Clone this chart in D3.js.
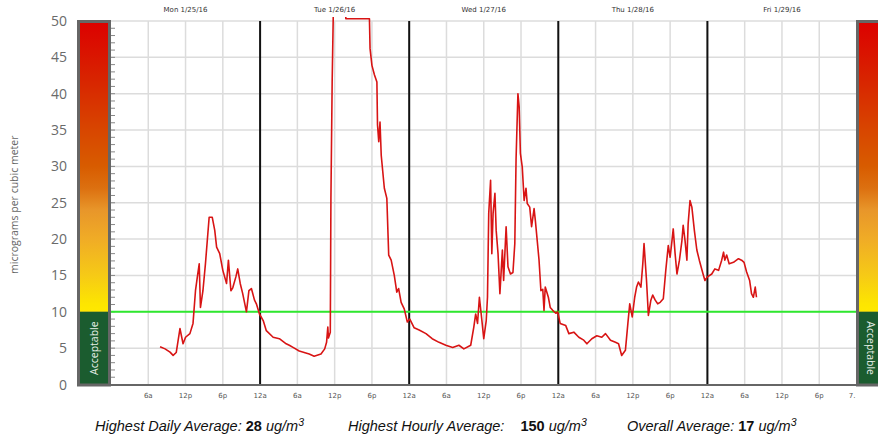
<!DOCTYPE html>
<html><head><meta charset="utf-8">
<script src="https://cdn.jsdelivr.net/npm/d3@7"></script>
<style>body{margin:0;background:#fff}</style>
</head><body>
<svg id="c" width="878" height="441"></svg>
<script>
// ---- data ----
const dayLabels = ["Mon 1/25/16","Tue 1/26/16","Wed 1/27/16","Thu 1/28/16","Fri 1/29/16"];
const tickLabels = ["6a","12p","6p","12a","6a","12p","6p","12a","6a","12p","6p","12a","6a","12p","6p","12a","6a","12p","6p","7."];
const yTicks = [0,5,10,15,20,25,30,35,40,45,50];
// hours since Mon 1/25/16 12a
const hours = [7.9,8.7,9.5,10.0,10.5,11.1,11.6,12.0,12.7,13.2,13.6,13.9,14.2,14.4,14.8,15.2,15.5,15.8,16.3,16.7,17.0,17.5,18.0,18.6,18.9,19.3,19.6,20.1,20.4,20.8,21.2,21.8,22.2,22.6,23.1,23.4,23.9,24.5,25.0,26.1,27.1,28.2,28.7,29.3,30.3,31.9,32.7,33.8,34.4,34.7,34.9,35.0,35.3,35.4,35.6,35.8,36.2,37.6,37.8,41.6,41.7,42.0,42.4,42.8,42.9,43.1,43.3,43.5,44.0,44.4,44.7,45.1,45.6,46.0,46.3,46.7,47.2,47.7,48.1,48.8,49.6,50.7,51.7,52.8,53.9,55.0,56.0,56.8,57.9,58.4,58.7,59.0,59.3,59.7,60.0,60.4,60.6,60.8,61.1,61.3,61.5,61.8,62.0,62.3,62.6,63.0,63.2,63.6,63.9,64.3,64.7,65.0,65.2,65.5,65.7,65.9,66.2,66.5,66.8,67.0,67.4,67.7,68.1,68.3,68.9,69.2,69.5,69.7,69.9,70.4,70.7,71.1,71.6,71.9,72.3,73.2,73.7,74.5,75.3,76.1,76.6,77.4,78.2,79.0,79.6,80.4,81.2,81.7,82.2,82.8,83.2,83.5,83.9,84.3,84.6,84.9,85.3,85.6,85.8,86.2,86.5,86.9,87.2,87.6,88.0,88.4,88.9,89.3,89.7,90.0,90.3,90.5,90.8,91.1,91.5,91.9,92.1,92.4,92.7,92.9,93.2,93.5,93.9,94.3,94.7,95.3,95.6,96.0,96.7,97.2,97.8,98.3,98.6,98.8,99.1,99.5,100.2,101.0,101.5,101.9,102.3,102.8,103.1,103.4,103.7,103.9];
const pm = [5.2,4.9,4.45,4.0,4.4,7.7,5.6,6.5,7.0,8.4,12.9,14.8,16.6,10.6,12.9,16.6,19.8,23.0,23.0,21.2,18.9,18.0,15.7,13.9,17.1,12.9,13.3,14.8,15.9,13.9,12.5,10.0,12.9,13.2,11.6,11.1,9.7,8.8,7.4,6.5,6.3,5.6,5.4,5.1,4.6,4.2,3.9,4.2,4.9,5.8,7.9,6.4,7.2,25.6,41.6,52,150,150,50.3,50.3,46.2,43.9,42.6,41.6,35.7,33.4,36.1,31.5,27.0,25.6,17.8,17.1,15.0,12.7,13.2,11.3,10.4,8.6,9.0,7.8,7.5,7.0,6.3,5.8,5.4,5.1,5.4,4.9,5.4,7.9,9.7,8.4,12.0,8.8,6.3,8.8,12.0,23.5,28.1,18.0,23.5,26.3,21.2,18.0,12.5,18.5,14.3,21.7,16.2,15.2,15.4,19.4,30.9,40.0,38.2,31.8,29.9,25.3,27.0,24.9,24.4,21.7,24.2,22.6,17.1,12.9,13.1,10.2,13.4,12.0,10.6,10.2,9.8,10.0,8.4,8.1,7.0,7.2,6.5,6.1,5.6,6.3,6.7,6.5,7.0,6.1,5.8,5.6,4.0,4.7,8.4,11.1,9.3,12.0,13.4,14.1,13.4,16.6,19.4,14.3,9.5,11.6,12.3,11.6,11.1,11.3,11.8,15.7,19.1,17.5,19.8,21.4,18.0,15.2,17.1,19.8,21.9,19.8,17.1,22.1,25.3,24.4,21.2,18.5,17.1,15.2,14.3,14.8,15.2,15.9,15.7,17.1,18.2,17.1,17.8,16.6,16.8,17.3,17.1,16.8,15.5,14.3,12.5,12.0,13.4,12.0];
const standard = 10;
const stats = [
  {label:"Highest Daily Average: ", value:"28", pad:""},
  {label:"Highest Hourly Average:", value:"150", pad:"\u00a0\u00a0\u00a0"},
  {label:"Overall Average: ", value:"17", pad:""}
];

// ---- layout ----
const svg = d3.select("#c");
const L = 111, R = 856.5, T = 21, B = 384.5;
const x = d3.scaleLinear().domain([0,120]).range([L,R]);
const y = d3.scaleLinear().domain([0,50]).range([B,T]);

// grid
const g = svg.append("g");
g.selectAll(".vg").data(d3.range(6,120,6)).join("line")
  .attr("x1",d=>x(d)).attr("x2",d=>x(d)).attr("y1",T).attr("y2",B)
  .attr("stroke","#dcdcdc").attr("stroke-width",1.5);
g.selectAll(".hg").data(yTicks.filter(d=>d>0)).join("line")
  .attr("x1",L).attr("x2",R).attr("y1",d=>y(d)).attr("y2",d=>y(d))
  .attr("stroke","#dcdcdc").attr("stroke-width",1.5);

// minor ticks on left
g.selectAll(".mt").data(d3.range(1,50)).join("line")
  .attr("x1",L).attr("x2",L+4).attr("y1",d=>y(d)).attr("y2",d=>y(d))
  .attr("stroke","#888").attr("stroke-width",1);

// day separators
g.selectAll(".day").data([24,48,72,96]).join("line")
  .attr("x1",d=>x(d)).attr("x2",d=>x(d)).attr("y1",T).attr("y2",B)
  .attr("stroke","#111").attr("stroke-width",2);

// standard line
g.append("line").attr("x1",L).attr("x2",R).attr("y1",y(standard)).attr("y2",y(standard))
  .attr("stroke","#2ee82e").attr("stroke-width",2);

// x axis line
g.append("line").attr("x1",L-34).attr("x2",R).attr("y1",B+0.5).attr("y2",B+0.5)
  .attr("stroke","#666").attr("stroke-width",2);

// data line
svg.append("clipPath").attr("id","clp").append("rect")
  .attr("x",L).attr("y",T-4).attr("width",R-L).attr("height",B-T+4);
const pts = hours.map((h,i)=>[h,pm[i]]);
svg.append("path").datum(pts).attr("clip-path","url(#clp)")
  .attr("d", d3.line().x(d=>x(d[0])).y(d=>y(d[1])))
  .attr("fill","none").attr("stroke","#d81414").attr("stroke-width",1.6).attr("stroke-linejoin","round");

// colour bars
const defs = svg.append("defs");
const grad = defs.append("linearGradient").attr("id","aqg").attr("gradientUnits","userSpaceOnUse")
  .attr("x1",0).attr("x2",0).attr("y1",y(50)).attr("y2",y(10));
const stops = [[50,"#dc0000"],[42,"#d82400"],[35,"#d84600"],[30,"#d85c00"],[27,"#dc7010"],[24,"#e8962a"],[20,"#f0ac26"],[15,"#f6ca16"],[11,"#fde600"],[10,"#ffe800"]];
stops.forEach(s=>grad.append("stop").attr("offset",(50-s[0])/40).attr("stop-color",s[1]));

function bar(x0, w, rot, tx){
  const b = svg.append("g");
  b.append("rect").attr("x",x0).attr("y",T-1).attr("width",w).attr("height",B-T+3).attr("fill","#666");
  b.append("rect").attr("x",x0+3).attr("y",T+2).attr("width",w-6).attr("height",y(10)-T-2).attr("fill","url(#aqg)");
  b.append("rect").attr("x",x0+3).attr("y",y(10)).attr("width",w-6).attr("height",B-y(10)-1).attr("fill","#1b5c2f");
  const cy=(y(10)+B)/2;
  b.append("text").attr("transform",`translate(${tx},${cy}) rotate(${rot})`)
    .attr("text-anchor","middle").attr("dy","0.35em")
    .attr("font-family","Open Sans, sans-serif").attr("font-size",10.5).attr("fill","#e8efe8")
    .text("Acceptable");
}
bar(77, 34, -90, 94);
bar(856, 34, 90, 871);

// y labels
svg.selectAll(".yl").data(yTicks).join("text")
  .attr("x",67).attr("y",d=>y(d)).attr("dy","0.36em").attr("text-anchor","end")
  .attr("font-family","Open Sans, sans-serif").attr("font-size",14).attr("fill","#6a6a6a")
  .text(d=>d);
svg.append("text").attr("transform",`translate(18,${(T+B)/2+2}) rotate(-90)`)
  .attr("text-anchor","middle").attr("font-family","Open Sans, sans-serif").attr("font-size",10.5)
  .attr("fill","#666").text("micrograms per cubic meter");

// x tick labels
svg.selectAll(".xl").data(tickLabels).join("text")
  .attr("x",(d,i)=> i===tickLabels.length-1 ? x((i+1)*6)-1 : x((i+1)*6))
  .attr("y",398).attr("text-anchor",(d,i)=> i===tickLabels.length-1 ? "end":"middle")
  .attr("font-family","DejaVu Sans, sans-serif").attr("font-size",7).attr("fill","#555")
  .text(d=>d);

// day labels
svg.selectAll(".dl").data(dayLabels).join("text")
  .attr("x",(d,i)=>x(i*24+12)).attr("y",12).attr("text-anchor","middle")
  .attr("font-family","DejaVu Sans, sans-serif").attr("font-size",7).attr("fill","#333")
  .text(d=>d);

// footer stats
const fx = [95, 348, 627];
stats.forEach((s,i)=>{
  const t = svg.append("text").attr("x",fx[i]).attr("y",431)
    .attr("font-family","Liberation Sans, Arial, sans-serif").attr("font-size",14.5).attr("fill","#111");
  t.append("tspan").attr("font-style","italic").text(s.label + s.pad + (s.pad? " ":""));
  t.append("tspan").attr("font-weight","bold").text(s.value);
  t.append("tspan").attr("font-style","italic").text(" ug/m");
  t.append("tspan").attr("font-style","italic").attr("font-size",10.5).attr("dy",-5).text("3");
});
</script>
</body></html>
